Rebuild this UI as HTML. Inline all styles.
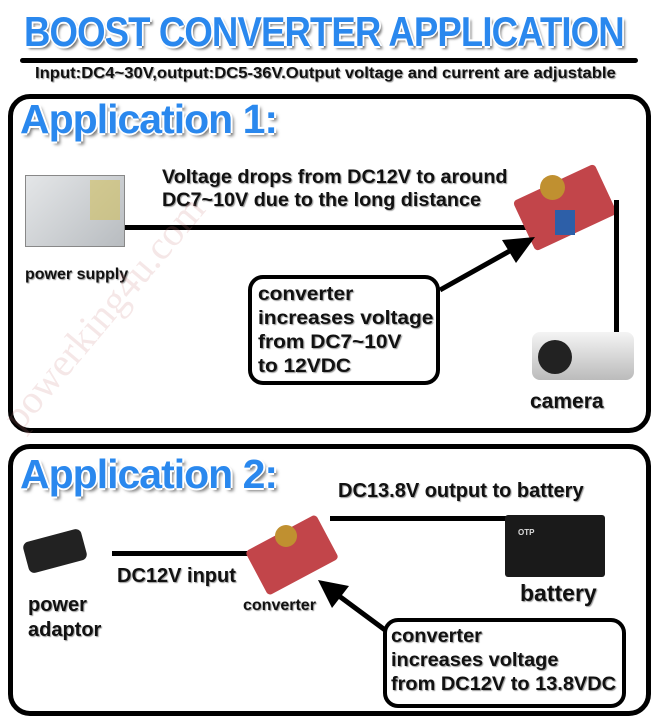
<!DOCTYPE html>
<html><head><meta charset="utf-8"><style>
*{margin:0;padding:0;box-sizing:border-box}
body{width:660px;height:720px;background:#fff;position:relative;overflow:hidden;font-family:"Liberation Sans",sans-serif;font-weight:bold}
.a{position:absolute;white-space:nowrap}
.t{color:#111;text-shadow:1px 1px 1px #999}
.blue{color:#2a88ee;text-shadow:-2px 0 #fff,2px 0 #fff,0 -2px #fff,0 2px #fff,3px 3px 3px #777;letter-spacing:-1px}
.box{position:absolute;border:5px solid #000;border-radius:22px}
.ln{position:absolute;background:#000}
</style></head><body>
<div class="a blue" style="left:24px;top:8px;font-size:42px;transform:scaleX(0.87);transform-origin:left">BOOST CONVERTER APPLICATION</div>
<div class="ln" style="left:20px;top:58px;width:618px;height:5px;border-radius:3px"></div>
<div class="a t" style="left:35px;top:65px;font-size:16px;transform:scaleX(1.04);transform-origin:left">Input:DC4~30V,output:DC5-36V.Output voltage and current are adjustable</div>

<div class="box" style="left:8px;top:94px;width:643px;height:339px"></div>
<div class="a blue" style="left:20px;top:96px;font-size:41px">Application 1:</div>
<div class="a" style="left:25px;top:175px;width:100px;height:72px;background:linear-gradient(135deg,#e4e6e8,#b8bcc0);border:1px solid #888"></div>
<div class="a" style="left:90px;top:180px;width:30px;height:40px;background:#d0c060;opacity:.6"></div>
<div class="a t" style="left:25px;top:266px;font-size:16px">power supply</div>
<div class="ln" style="left:125px;top:225px;width:415px;height:5px"></div>
<div class="a t" style="left:162px;top:166px;font-size:19px;line-height:23px;transform:scaleX(1.04);transform-origin:left">Voltage drops from DC12V to around<br>DC7~10V due to the long distance</div>
<div class="a" style="left:520px;top:180px;width:90px;height:55px;background:#c2454a;transform:rotate(-25deg);border-radius:4px"></div>
<div class="a" style="left:540px;top:175px;width:25px;height:25px;background:#c09030;border-radius:50%"></div>
<div class="a" style="left:555px;top:210px;width:20px;height:25px;background:#2d5fa8"></div>
<div class="ln" style="left:614px;top:200px;width:5px;height:135px"></div>
<div class="a" style="left:532px;top:332px;width:102px;height:48px;background:linear-gradient(#f4f4f4,#bbb);border-radius:8px"></div>
<div class="a" style="left:538px;top:340px;width:34px;height:34px;background:#222;border-radius:50%"></div>
<div class="a t" style="left:530px;top:390px;font-size:21px">camera</div>
<div class="a" style="left:248px;top:275px;width:192px;height:110px;border:4px solid #000;border-radius:15px"></div>
<div class="a t" style="left:258px;top:283px;font-size:19px;line-height:24px;transform:scaleX(1.1);transform-origin:left">converter<br>increases voltage<br>from DC7~10V<br>to 12VDC</div>
<svg class="a" style="left:0;top:0" width="660" height="720">
<line x1="440" y1="290" x2="515" y2="248" stroke="#000" stroke-width="5"/>
<polygon points="535,237 502,240 516,263" fill="#000"/>
<line x1="385" y1="630" x2="335" y2="593" stroke="#000" stroke-width="5"/>
<polygon points="318,580 349,586 332,608" fill="#000"/>
</svg>

<div class="box" style="left:8px;top:444px;width:643px;height:272px"></div>
<div class="a blue" style="left:20px;top:451px;font-size:41px">Application 2:</div>
<div class="a t" style="left:338px;top:480px;font-size:20px">DC13.8V output to battery</div>
<div class="ln" style="left:330px;top:516px;width:200px;height:5px"></div>
<div class="a" style="left:505px;top:515px;width:100px;height:62px;background:#1a1a1a;border-radius:3px"></div>
<div class="a" style="left:518px;top:528px;color:#ddd;font-size:8px">OTP</div>
<div class="a t" style="left:520px;top:580px;font-size:23px">battery</div>
<div class="a" style="left:25px;top:535px;width:60px;height:32px;background:#222;border-radius:6px;transform:rotate(-15deg)"></div>
<div class="ln" style="left:112px;top:551px;width:140px;height:5px"></div>
<div class="a t" style="left:117px;top:565px;font-size:20px">DC12V input</div>
<div class="a t" style="left:28px;top:593px;font-size:20px;line-height:25px">power<br>adaptor</div>
<div class="a" style="left:252px;top:530px;width:80px;height:50px;background:#c2454a;transform:rotate(-28deg);border-radius:4px"></div>
<div class="a" style="left:275px;top:525px;width:22px;height:22px;background:#c09030;border-radius:50%"></div>
<div class="a t" style="left:243px;top:597px;font-size:16px">converter</div>
<div class="a" style="left:383px;top:618px;width:243px;height:90px;border:4px solid #000;border-radius:15px"></div>
<div class="a t" style="left:391px;top:625px;font-size:19px;line-height:24px;transform:scaleX(1.05);transform-origin:left">converter<br>increases voltage<br>from DC12V to 13.8VDC</div>
<div class="a" style="left:10px;top:400px;font-size:40px;color:rgba(200,120,120,0.18);font-family:'Liberation Serif',serif;font-weight:normal;transform:rotate(-50deg);transform-origin:left">powerking4u.com</div>
</body></html>
